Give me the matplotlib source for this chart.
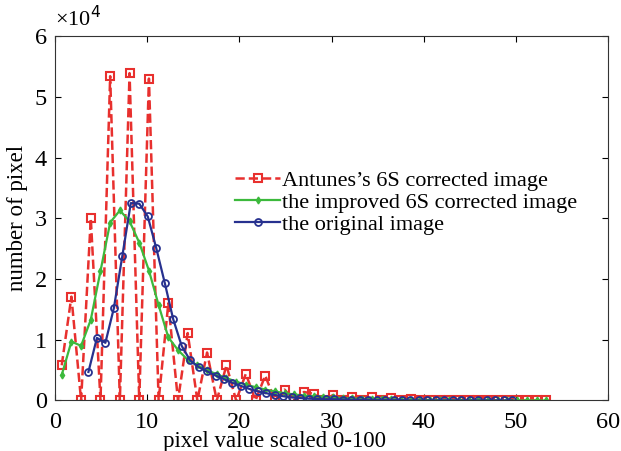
import matplotlib
matplotlib.use('Agg')
import matplotlib.pyplot as plt
import numpy as np

# x positions of the histogram bins (evenly spaced)
x_red = np.linspace(0.7, 53.3, 51)
x_blue = np.linspace(3.6, 49.6, 51)

# counts in units of 1e4
antunes = [0.58, 1.71, 0, 3.00, 0, 5.34, 0, 5.39, 0, 5.30,
           0, 1.60, 0, 1.11, 0, 0.79, 0, 0.58, 0, 0.44,
           0, 0.41, 0, 0.18, 0, 0.14, 0.11, 0, 0.09, 0,
           0.06, 0, 0.05, 0, 0.04, 0, 0.02, 0.01, 0, 0.01,
           0, 0.01, 0, 0.01, 0, 0, 0.01, 0, 0, 0, 0]
improved = [0.42, 0.97, 0.90, 1.33, 2.13, 2.93, 3.13, 2.95, 2.60, 2.14,
            1.57, 1.04, 0.83, 0.67, 0.58, 0.50, 0.43, 0.37, 0.31, 0.26,
            0.22, 0.18, 0.15, 0.12, 0.10, 0.08, 0.07, 0.06, 0.05, 0.04,
            0.035, 0.03, 0.025, 0.02, 0.02, 0.015, 0.01, 0.01, 0.01, 0.01,
            0.005, 0.005, 0.005, 0.005, 0, 0, 0, 0, 0, 0, 0]
original = [0.47, 1.03, 0.95, 1.52, 2.38, 3.25, 3.24, 3.03, 2.51, 1.94,
            1.34, 0.90, 0.66, 0.55, 0.48, 0.41, 0.35, 0.29, 0.24, 0.19,
            0.15, 0.12, 0.09, 0.07, 0.05, 0.04, 0.03, 0.025, 0.02, 0.02,
            0.015, 0.01, 0.01, 0.01, 0.005, 0.005, 0.005, 0.005, 0, 0,
            0, 0, 0, 0, 0, 0, 0, 0, 0, 0, 0]

plt.rcParams['font.family'] = ['Liberation Serif', 'DejaVu Serif']

fig = plt.figure(figsize=(6.21, 4.51), dpi=100)
ax = fig.add_axes([0.089, 0.112, 0.890, 0.808])

ax.plot(x_red, antunes, '--s', color='#e8302e', lw=1.8, ms=6, mfc='none',
        mew=1.5, label="Antunes\u2019s 6S corrected image")
ax.plot(x_red, improved, '-d', color='#3cb93c', lw=1.6, ms=3.5,
        label='the improved 6S corrected image')
ax.plot(x_blue, original, '-o', color='#27318f', lw=1.6, ms=5, mfc='none',
        mew=1.3, label='the original image')

ax.set_xlim(0, 60)
ax.set_ylim(0, 6)
ax.set_xticks([0, 10, 20, 30, 40, 50, 60])
ax.set_yticks([0, 1, 2, 3, 4, 5, 6])
ax.tick_params(direction='in', top=True, right=True, labelsize=17.5, length=4)
ax.tick_params(axis='x', pad=8)
ax.tick_params(axis='y', pad=6)
for s in ax.spines.values():
    s.set_linewidth(0.8)
    s.set_color('#333333')

ax.set_xlabel('pixel value scaled 0-100', fontsize=16.5)
ax.xaxis.set_label_coords(0.397, -0.085)
ax.set_ylabel('number of pixel', fontsize=16.5)
ax.yaxis.set_label_coords(-0.05, 0.5)

fig.text(0.088, 0.958, '\u00d710$^4$', fontsize=16, ha='left', va='center')

ax.legend(loc='upper left', bbox_to_anchor=(0.31, 0.655), frameon=False,
          fontsize=16, handlelength=2.0, handletextpad=0.1, labelspacing=0.05,
          borderaxespad=0)

plt.savefig('out.png', dpi=100)
